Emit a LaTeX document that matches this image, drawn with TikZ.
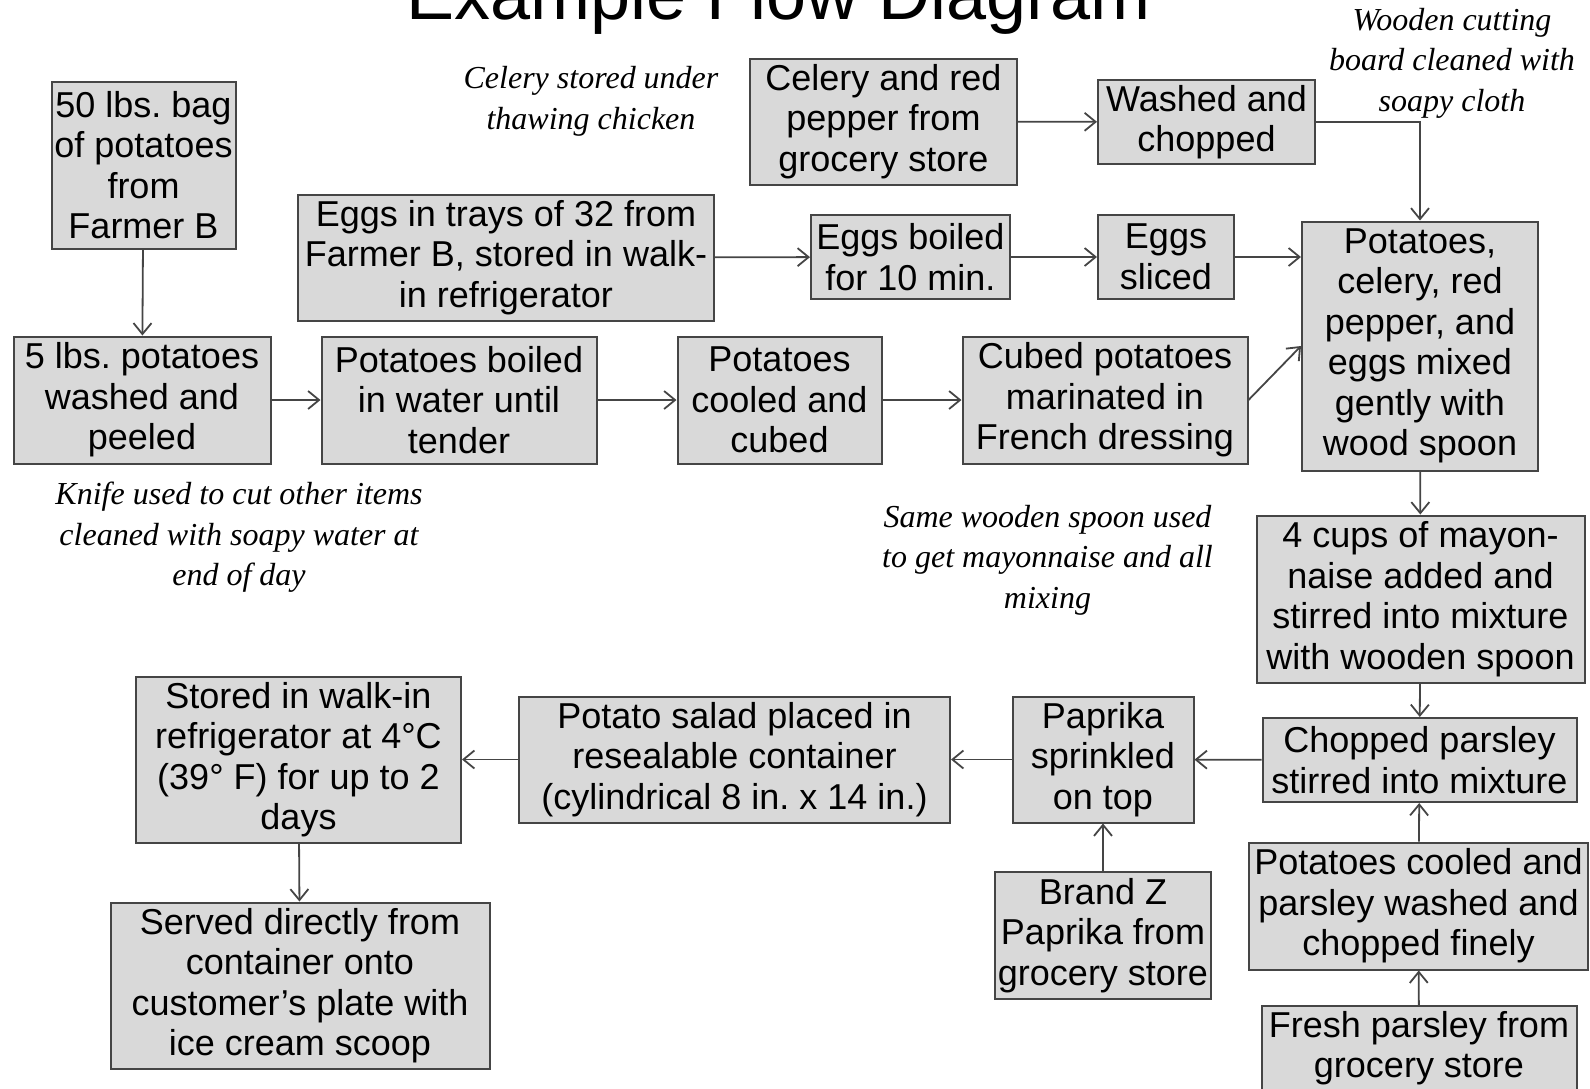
\documentclass[tikz,border=0pt]{standalone}
\usepackage{fontspec}
\setmainfont{Liberation Sans}
\newfontfamily\notefamily{Liberation Serif}
\usetikzlibrary{arrows.meta}
\definecolor{boxgray}{HTML}{D9D9D9}
\definecolor{linegray}{HTML}{454545}
\newcommand{\boxfont}{\fontsize{36}{40.5}\selectfont}
\newcommand{\notefont}{\notefamily\itshape\fontsize{32}{40.5}\selectfont}
\frenchspacing

\begin{document}
\begin{tikzpicture}[x=1pt,y=-1pt,
  stepbox/.style={draw=linegray,line width=2pt,fill=boxgray,inner sep=0pt,align=center,font=\boxfont},
  note/.style={align=center,font=\notefont,inner sep=0pt},
  every edge/.style={draw=linegray,line width=1.8pt},
  elbow/.style={to path={-| (\tikztotarget)}},
  >={Straight Barb[length=11pt,width=18pt]}]

\useasboundingbox (0,0) rectangle (1590,1088);

\node (title) [anchor=base,font=\fontsize{72}{80}\selectfont] at (779,19) {Example Flow Diagram};

\node (bag) [stepbox,minimum width=184,minimum height=167] at (143.5,165) {50 lbs. bag\\of potatoes\\from\\Farmer B};
\node (washpeel) [stepbox,minimum width=257,minimum height=127] at (142,400) {5 lbs. potatoes\\washed and\\peeled};
\node (boil) [stepbox,minimum width=275,minimum height=127] at (459,400) {Potatoes boiled\\in water until\\tender};
\node (cool) [stepbox,minimum width=204,minimum height=127] at (779.5,400) {Potatoes\\cooled and\\cubed};
\node (marinate) [stepbox,minimum width=285,minimum height=127] at (1105,400) {Cubed potatoes\\marinated in\\French dressing};
\node (eggtray) [stepbox,minimum width=416,minimum height=126] at (506,257.5) {Eggs in trays of 32 from\\Farmer B, stored in walk-\\in refrigerator};
\node (eggboil) [stepbox,minimum width=199,minimum height=84] at (910.5,257) {Eggs boiled\\for 10 min.};
\node (eggslice) [stepbox,minimum width=136,minimum height=84] at (1166,257) {Eggs\\sliced};
\node (celery) [stepbox,minimum width=267,minimum height=126] at (883.5,121.5) {Celery and red\\pepper from\\grocery store};
\node (chop) [stepbox,minimum width=217,minimum height=84] at (1206.5,122) {Washed and\\chopped};
\node (mix) [stepbox,minimum width=236,minimum height=249] at (1420,346) {Potatoes,\\celery, red\\pepper, and\\eggs mixed\\gently with\\wood spoon};
\node (mayo) [stepbox,minimum width=328,minimum height=167] at (1420.5,599) {4 cups of mayon-\\naise added and\\stirred into mixture\\with wooden spoon};
\node (parsley) [stepbox,minimum width=314,minimum height=84] at (1419.5,760) {Chopped parsley\\stirred into mixture};
\node (finely) [stepbox,minimum width=339,minimum height=127] at (1418.5,906) {Potatoes cooled and\\parsley washed and\\chopped finely};
\node (fresh) [stepbox,minimum width=315,minimum height=84] at (1419,1048) {Fresh parsley from\\grocery store};
\node (paprika) [stepbox,minimum width=181,minimum height=126] at (1103,759.5) {Paprika\\sprinkled\\on top};
\node (brand) [stepbox,minimum width=216,minimum height=127] at (1103,935.5) {Brand Z\\Paprika from\\grocery store};
\node (salad) [stepbox,minimum width=431,minimum height=126] at (734.5,759.5) {Potato salad placed in\\resealable container\\(cylindrical 8 in. x 14 in.)};
\node (store) [stepbox,minimum width=325,minimum height=166] at (298.5,759.5) {Stored in walk-in\\refrigerator at 4°C\\(39° F) for up to 2\\days};
\node (serve) [stepbox,minimum width=379,minimum height=166] at (300,985.5) {Served directly from\\container onto\\customer’s plate with\\ice cream scoop};

\node (celerynote) [note] at (591,101.5) {Celery stored under\\thawing chicken};
\node (boardnote) [note] at (1452,63) {Wooden cutting\\board cleaned with\\soapy cloth};
\node (knifenote) [note] at (239,537.5) {Knife used to cut other items\\cleaned with soapy water at\\end of day};
\node (spoonnote) [note] at (1047.5,560) {Same wooden spoon used\\to get mayonnaise and all\\mixing};

\path [->]

(bag) edge (washpeel)
(washpeel) edge (boil)
(boil) edge (cool)
(cool) edge (marinate)
(marinate.east) edge (mix.west)

(eggtray) edge (eggboil)
(eggboil) edge (eggslice)
(eggslice.east) edge (eggslice.east -| mix.west)

(celery) edge (chop)
(chop.east) edge [elbow] (mix.north)

(mix) edge (mayo)
(mayo) edge (parsley)
(finely) edge (parsley)
(fresh) edge (finely)

(parsley) edge (paprika)
(brand) edge (paprika)
(paprika) edge (salad)
(salad) edge (salad -| store.east)
(store) edge (serve)

;

\end{tikzpicture}
\end{document}
